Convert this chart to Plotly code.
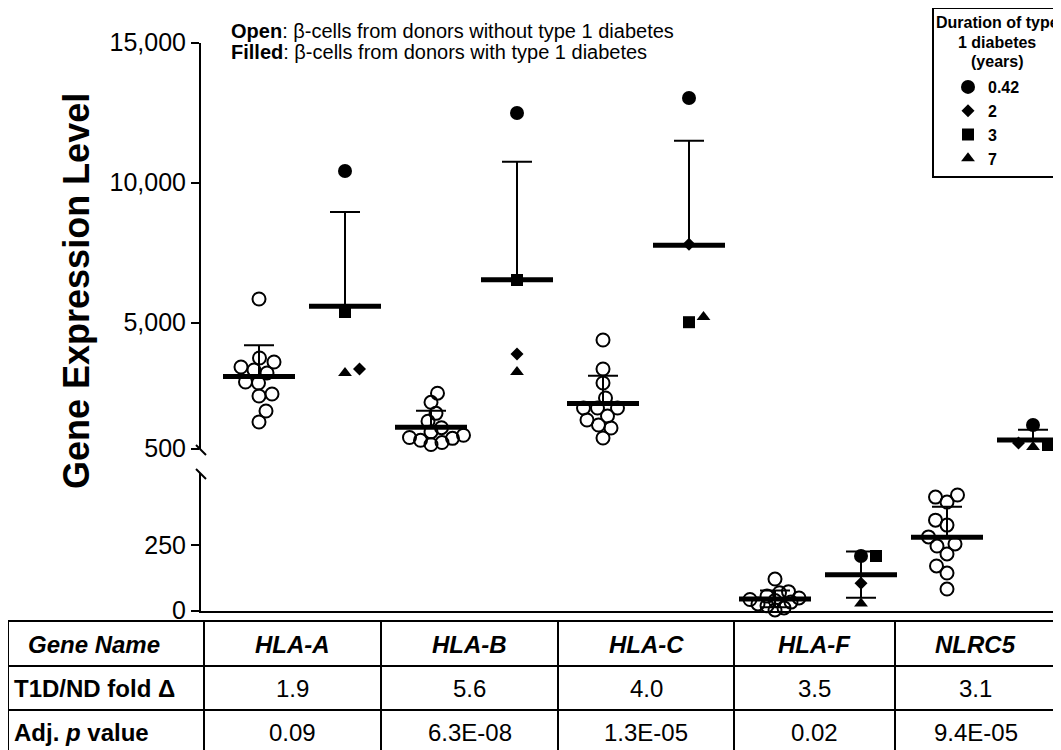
import plotly.graph_objects as go
import numpy as np

# ---------------- data ----------------
genes = ["HLA-A", "HLA-B", "HLA-C", "HLA-F", "NLRC5"]
durations = ["0.42", "2", "3", "7"]          # years of type 1 diabetes
duration_symbols = ["circle", "diamond", "square", "triangle-up"]

# non-diabetic donors (open circles)
nd_hla_a = [5846, 3739, 3596, 3418, 3311, 3204, 2882, 2846, 2454, 2382, 1846, 1454]
nd_hla_b = [2482, 2158, 1763, 1480, 1250, 1100, 980, 900, 800, 720, 650, 870]
nd_hla_c = [4382, 3346, 2846, 2311, 1954, 1954, 1954, 1668, 1346, 1525, 1239, 882]
nd_hla_f = [120, 72, 68, 55, 48, 42, 38, 32, 25, 18, 10, 2]
nd_nlrc5 = [441, 414, 433, 345, 326, 281, 246, 254, 216, 170, 143, 82]

# T1D donors, ordered as durations 0.42, 2, 3, 7 years
t1d_hla_a = [10418, 3346, 5382, 3204]
t1d_hla_b = [12489, 3882, 6525, 3239]
t1d_hla_c = [13025, 7804, 5018, 5204]
t1d_hla_f = [208, 104, 208, 27]
t1d_nlrc5 = [1346, 704, 632, 561]

nd_groups = [nd_hla_a, nd_hla_b, nd_hla_c, nd_hla_f, nd_nlrc5]
t1d_groups = [t1d_hla_a, t1d_hla_b, t1d_hla_c, t1d_hla_f, t1d_nlrc5]

fold_change = ["1.9", "5.6", "4.0", "3.5", "3.1"]
adj_p = ["0.09", "6.3E-08", "1.3E-05", "0.02", "9.4E-05"]
row_headers = ["<b><i>Gene Name</i></b>", "<b>T1D/ND fold \u0394</b>", "<b>Adj. <i>p</i> value</b>"]

upper_ticks = [500, 5000, 10000, 15000]
upper_ticktext = ["500", "5,000", "10,000", "15,000"]
lower_ticks = [0, 250]
lower_ticktext = ["0", "250"]

# ---------------- layout geometry ----------------
W, H = 1061, 750
PAGE_OFFSET = 8         # the page body margin that shifts the figure on screen
FONT = "Liberation Sans, Arial, sans-serif"
UNIT_PX = 86.0          # pixel distance between neighbouring groups
FIRST_PX = 259.0        # screen x of the first group
AXIS_PX = 201.0
UP_TOP, UP_BOT = 42.7, 448.7
LO_TOP, LO_BOT = 473.0, 610.5
UP_RANGE = [500, 15000]
LO_RANGE = [0, 525]
BREAK = 500
ND_GAP = [13, 11, 12.5, 9, 12.5]     # swarm spacing (px) for the open circles

def px(x):
    return (x - PAGE_OFFSET) / W

def py(y):
    return 1 - (y - PAGE_OFFSET) / H

up_ppu = (UP_BOT - UP_TOP) / (UP_RANGE[1] - UP_RANGE[0])
lo_ppu = (LO_BOT - LO_TOP) / (LO_RANGE[1] - LO_RANGE[0])


def swarm_offsets(values, ppu, dist):
    ys = [v * ppu for v in values]
    order = sorted(range(len(values)), key=lambda i: ys[i])
    placed = []
    offs = [0.0] * len(values)
    for n, i in enumerate(order):
        k = 0
        hit = None
        sign = 1 if n % 2 == 1 else -1
        while hit is None:
            cands = [0.0] if k == 0 else [sign * k * 0.5, -sign * k * 0.5]
            for c in cands:
                if all((c - qx) ** 2 + (ys[i] - qy) ** 2 >= dist ** 2 for qx, qy in placed):
                    hit = c
                    break
            k += 1
        placed.append((hit, ys[i]))
        offs[i] = hit / UNIT_PX
    return offs


fig = go.Figure()

for gi, gene in enumerate(genes):
    for kind, vals in (("ND", nd_groups[gi]), ("T1D", t1d_groups[gi])):
        xc = 1 + 2 * gi + (0 if kind == "ND" else 1)
        mean = float(np.mean(vals))
        sd = float(np.std(vals, ddof=1))
        upper = mean > BREAK
        yref = "y2" if upper else "y"
        ppu = up_ppu if upper else lo_ppu
        both_sides = gene == "HLA-F"
        if kind == "ND":
            offs = swarm_offsets(vals, ppu, ND_GAP[gi])
            fig.add_trace(go.Scatter(
                x=[xc + o for o in offs], y=vals, mode="markers", yaxis=yref,
                marker=dict(symbol="circle-open", size=13, color="black",
                            line=dict(width=2, color="black")),
                showlegend=False, cliponaxis=False, name="ND " + gene,
                hoverinfo="y"))
        else:
            offs = swarm_offsets(vals, ppu, 15)
            sizes = [14, 10, 12, 12]
            for di, dur in enumerate(durations):
                fig.add_trace(go.Scatter(
                    x=[xc + offs[di]], y=[vals[di]], mode="markers", yaxis=yref,
                    marker=dict(symbol=duration_symbols[di], size=sizes[di], color="black"),
                    name="<b>" + dur + "</b>",
                    showlegend=(gi == 0), cliponaxis=False, hoverinfo="y"))
        # mean line + SD
        fig.add_trace(go.Scatter(
            x=[xc], y=[mean], mode="markers", yaxis=yref,
            marker=dict(symbol="line-ew", size=72 / 1.4, color="black",
                        line=dict(width=5, color="black")),
            error_y=dict(type="data", symmetric=False, array=[sd],
                         arrayminus=[sd if both_sides else 0],
                         color="black", thickness=2, width=15),
            showlegend=False, cliponaxis=False, hoverinfo="y", name=kind + " mean"))

shapes = []
annotations = []

# axis breaks
for yb in (450, 474):
    shapes.append(dict(type="line", xref="paper", yref="paper",
                       x0=px(AXIS_PX - 5), y0=py(yb - 5), x1=px(AXIS_PX + 5), y1=py(yb + 5),
                       line=dict(color="black", width=2)))

# y title
annotations.append(dict(text="<b>Gene Expression Level</b>", x=px(76), y=py(291),
                        xref="paper", yref="paper", textangle=-90, showarrow=False,
                        xanchor="center", yanchor="middle",
                        font=dict(family=FONT, size=36, color="black")))

# open / filled note
annotations.append(dict(text="<b>Open</b>: \u03b2-cells from donors without type 1 diabetes",
                        x=px(229), y=py(31), xref="paper", yref="paper", showarrow=False,
                        xanchor="left", yanchor="middle",
                        font=dict(family=FONT, size=20, color="black")))
annotations.append(dict(text="<b>Filled</b>: \u03b2-cells from donors with type 1 diabetes",
                        x=px(229), y=py(52), xref="paper", yref="paper", showarrow=False,
                        xanchor="left", yanchor="middle",
                        font=dict(family=FONT, size=20, color="black")))

# legend box
shapes.append(dict(type="rect", xref="paper", yref="paper",
                   x0=px(933), y0=py(177), x1=px(1075), y1=py(8),
                   line=dict(color="black", width=2)))
for txt, yy in (("Duration of type", 22), ("1 diabetes", 43), ("(years)", 62)):
    annotations.append(dict(text="<b>" + txt + "</b>", x=px(997), y=py(yy),
                            xref="paper", yref="paper", showarrow=False,
                            xanchor="center", yanchor="middle",
                            font=dict(family=FONT, size=16, color="black")))

# table
col_x = [8, 204, 381, 558, 734, 895, 1056]
row_y = [621, 666, 710, 752]
for yy in row_y:
    shapes.append(dict(type="line", xref="paper", yref="paper",
                       x0=px(col_x[0]), x1=px(col_x[-1]), y0=py(yy), y1=py(yy),
                       line=dict(color="black", width=2)))
for xx in col_x:
    shapes.append(dict(type="line", xref="paper", yref="paper",
                       x0=px(xx), x1=px(xx), y0=py(row_y[0]), y1=py(row_y[-1]),
                       line=dict(color="black", width=2)))
row_mid = [(row_y[i] + row_y[i + 1]) / 2 + 0.5 for i in range(3)]
row_mid[2] = 732
header_x = [26, 12, 12]
for r in range(3):
    annotations.append(dict(text=row_headers[r], x=px(header_x[r]), y=py(row_mid[r]),
                            xref="paper", yref="paper", showarrow=False,
                            xanchor="left", yanchor="middle",
                            font=dict(family=FONT, size=24, color="black")))
row_cells = [["<b><i>" + g + "</i></b>" for g in genes], fold_change, adj_p]
for r in range(3):
    for c in range(5):
        cx = (col_x[c + 1] + col_x[c + 2]) / 2
        annotations.append(dict(text=row_cells[r][c], x=px(cx), y=py(row_mid[r]),
                                xref="paper", yref="paper", showarrow=False,
                                xanchor="center", yanchor="middle",
                                font=dict(family=FONT, size=24, color="black")))

x_lo = 1 + (AXIS_PX - FIRST_PX) / UNIT_PX
x_hi = 1 + (W - FIRST_PX) / UNIT_PX

axis_common = dict(showline=True, linecolor="black", linewidth=2, showgrid=False,
                   zeroline=False, ticks="outside", ticklen=8, tickwidth=2,
                   tickcolor="black", anchor="x", automargin=False,
                   tickfont=dict(family=FONT, size=25, color="black"))

fig.update_layout(
    width=W, height=H, autosize=False,
    margin=dict(l=0, r=0, t=0, b=0, pad=0, autoexpand=False),
    paper_bgcolor="white", plot_bgcolor="white",
    xaxis=dict(domain=[px(AXIS_PX), px(W)], range=[x_lo, x_hi], showline=True,
               linecolor="black", linewidth=2, showticklabels=False, ticks="",
               showgrid=False, zeroline=False, anchor="y", fixedrange=True,
               automargin=False),
    yaxis=dict(domain=[py(LO_BOT), py(LO_TOP)], range=LO_RANGE,
               tickvals=lower_ticks, ticktext=lower_ticktext, **axis_common),
    yaxis2=dict(domain=[py(UP_BOT), py(UP_TOP)], range=UP_RANGE,
                tickvals=upper_ticks, ticktext=upper_ticktext, **axis_common),
    showlegend=True,
    legend=dict(x=px(948), y=py(70), xanchor="left", yanchor="top",
                bgcolor="rgba(0,0,0,0)", borderwidth=0,
                font=dict(family=FONT, size=16, color="black")),
    shapes=shapes, annotations=annotations,
)

fig.write_html("out.html")
